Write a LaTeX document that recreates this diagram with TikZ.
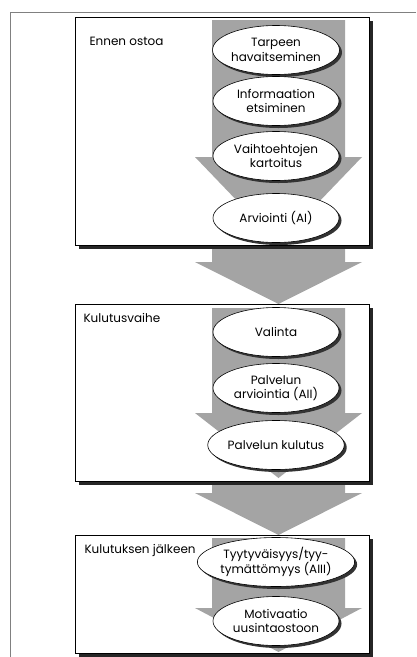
\documentclass[tikz,border=0pt]{standalone}
\usepackage{fontspec}
\setmainfont{Poppins}
\usepackage{tikz}
\usetikzlibrary{shapes.geometric}
\usetikzlibrary{shadows}
\definecolor{ArrowGray}{HTML}{A4A4A4}
\definecolor{FrameGray}{HTML}{808080}

% big down arrow: shaft top, wing line, tip
\newcommand{\flowarrow}[3]{%
  \fill[ArrowGray] (212,#1) -- (345,#1) -- (345,#2) -- (362,#2) -- (278.5,#3)
    -- (195,#2) -- (212,#2) -- cycle;}

\begin{document}
\begin{tikzpicture}[x=1pt, y=-1pt,
    phase/.style={draw, line width=.8pt, fill=white,
      drop shadow={shadow xshift=4pt, shadow yshift=-4pt, opacity=1, fill=black!85}},
    stage/.style={ellipse, draw, line width=.6pt, fill=white,
      minimum width=126pt, minimum height=49pt, inner sep=0pt, align=center,
      font=\fontsize{12}{14.5}\selectfont,
      drop shadow={shadow xshift=2.5pt, shadow yshift=-2.5pt, opacity=1, fill=black!80}},
    phasename/.style={anchor=base west, font=\fontsize{12}{14}\selectfont}]
  \useasboundingbox (0,0) rectangle (416,657);

  % page frame
  \draw[FrameGray, line width=.8pt] (416,12) -- (10,12) -- (10,657);

  % arrows between the phases
  \flowarrow{247}{262}{304}
  \flowarrow{482}{493}{535}

  % phases
  \draw[phase] (75,17) rectangle (369,245);
  \draw[phase] (75,304) rectangle (369,481);
  \draw[phase] (75,535) rectangle (369,653);

  \node[phasename] (ennen) at (86,45) {Ennen ostoa};
  \node[phasename] (kulutusvaihe) at (80,322) {Kulutusvaihe};
  \node[phasename] (jalkeen) at (81,553) {Kulutuksen jälkeen};

  % arrows inside the phases
  \flowarrow{20}{157}{244}
  \flowarrow{308}{413}{478}
  \flowarrow{538}{608}{652}

  % stages
  \node[stage] (tarve) at (276,50) {Tarpeen\\havaitseminen};
  \node[stage] (info) at (276,101) {Informaation\\etsiminen};
  \node[stage] (vaihtoehdot) at (276,156) {Vaihtoehtojen\\kartoitus};
  \node[stage] (arvio) at (276,218) {Arviointi (AI)};

  \node[stage] (valinta) at (276,332) {Valinta};
  \node[stage] (palvarvio) at (276,388) {Palvelun\\arviointia (AII)};
  \node[stage] (palvkulutus) at (276,445) {Palvelun kulutus};

  \node[stage] (tyytyvaisyys) at (276,562) {Tyytyväisyys/tyy-\\tymättömyys (AIII)};
  \node[stage] (motivaatio) at (276,621) {Motivaatio\\uusintaostoon};

\end{tikzpicture}
\end{document}
